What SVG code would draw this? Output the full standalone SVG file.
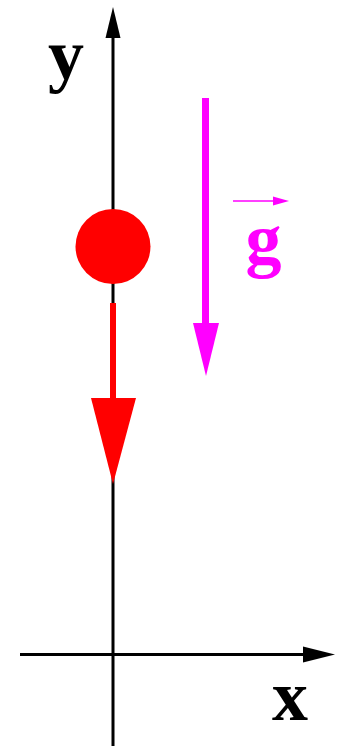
<svg xmlns="http://www.w3.org/2000/svg" width="341" height="748" viewBox="0 0 341 748">
<style>
.axis{stroke:#000;stroke-width:3;fill:none}
.lbl{font-family:"Liberation Serif","Times New Roman",serif;font-weight:bold;font-size:72px;text-anchor:middle}
</style>
<rect width="341" height="748" fill="#fff"/>
<g id="connectors">
<line class="axis" x1="113" y1="746" x2="113" y2="36"/>
<polygon points="113,7 105.5,38 120.5,38" fill="#000"/>
<line class="axis" x1="20" y1="654.5" x2="305" y2="654.5"/>
<polygon points="335,654.5 303,646.5 303,662.5" fill="#000"/>
</g>
<g id="y-label"><text class="lbl" x="66" y="79">y</text></g>
<g id="x-label"><text class="lbl" x="290" y="720">x</text></g>
<g id="ball"><circle cx="113" cy="246.5" r="37.5" fill="#ff0000"/></g>
<g id="velocity">
<rect x="110" y="303" width="6" height="97" fill="#ff0000"/>
<polygon points="91,398 136,398 113,484" fill="#ff0000"/>
</g>
<g id="gravity">
<rect x="202" y="98" width="7" height="227" fill="#ff00ff"/>
<polygon points="193,323 219,323 206,376" fill="#ff00ff"/>
<line x1="233" y1="201" x2="276" y2="201" stroke="#ff00ff" stroke-width="1.5"/>
<polygon points="289,201 273,196.5 273,205.5" fill="#ff00ff"/>
<text class="lbl" x="263.5" y="264" fill="#ff00ff">g</text>
</g>
</svg>
